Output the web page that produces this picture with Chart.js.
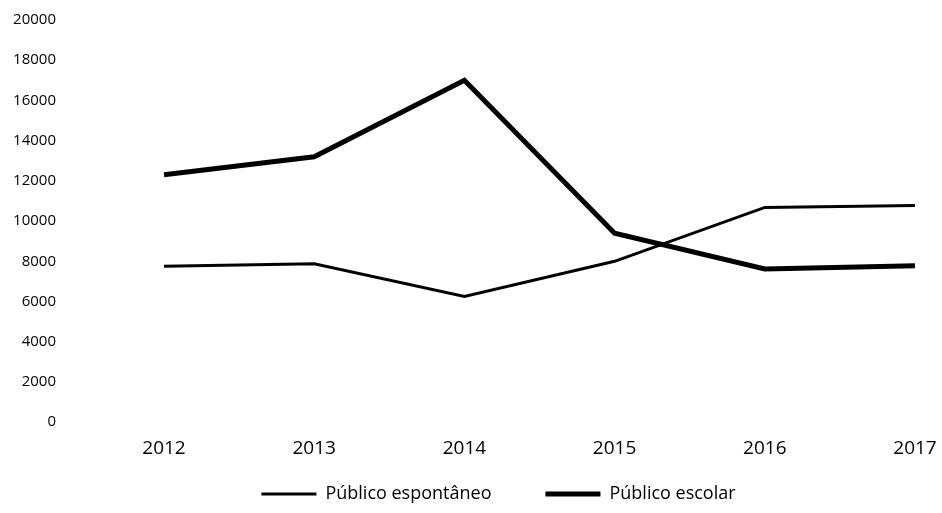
<!DOCTYPE html>
<html><head><meta charset="utf-8">
<script src="https://cdn.jsdelivr.net/npm/chart.js@4/dist/chart.umd.min.js"></script>
<style>html,body{margin:0;padding:0;background:#fff}#wrap{width:942px;height:513px}</style>
</head><body><div id="wrap"><canvas id="c" width="942" height="513"></canvas></div>
<script>
const categories = ['2012','2013','2014','2015','2016','2017'];
const espontaneo = [7750, 7880, 6250, 8000, 10680, 10780];
const escolar = [12300, 13200, 17000, 9400, 7620, 7780];
const yTicks = [0,2000,4000,6000,8000,10000,12000,14000,16000,18000,20000];

const fam = "'Open Sans', 'DejaVu Sans', sans-serif";
const legendShift = {
  id: 'legendShift',
  afterLayout(chart) {
    const lg = chart.legend;
    if (!lg) return;
    lg.top = 431; lg.bottom = 513; lg.height = 82;
    lg.left += 41; lg.right += 41;
  }
};
new Chart(document.getElementById('c'), {
  type: 'line',
  data: {
    labels: categories,
    datasets: [
      {label: 'Público espontâneo', data: espontaneo, borderColor: '#000', backgroundColor: '#000', borderWidth: 3, pointRadius: 0, tension: 0},
      {label: 'Público escolar', data: escolar, borderColor: '#000', backgroundColor: '#000', borderWidth: 5, pointRadius: 0, tension: 0}
    ]
  },
  plugins: [legendShift],
  options: {
    responsive: false, animation: false,
    layout: {padding: {top: 20, right: 27, left: 0, bottom: 0}},
    plugins: {
      tooltip: {enabled: false},
      legend: {
        position: 'bottom',
        maxHeight: 38,
        labels: {color: '#000', font: {family: fam, size: 18}, usePointStyle: true, pointStyle: 'line', pointStyleWidth: 55, boxHeight: 18, padding: 54}
      }
    },
    scales: {
      x: {
        offset: false,
        afterFit: (s) => { s.paddingLeft = 0; s.paddingRight = 0; },
        grid: {display: false, drawTicks: false},
        border: {display: false},
        ticks: {color: '#000', font: {family: fam, size: 19}, padding: 15, maxRotation: 0}
      },
      y: {
        min: 0, max: 20000,
        afterBuildTicks: (s) => { s.ticks = yTicks.map(v => ({value: v})); },
        afterFit: (s) => { s.width = 164; s.paddingTop = 8; s.paddingBottom = 8; },
        grid: {display: false, drawTicks: false},
        border: {display: false},
        ticks: {color: '#000', font: {family: fam, size: 15}, padding: 108, callback: (v) => String(v)}
      }
    }
  }
});
</script></body></html>
